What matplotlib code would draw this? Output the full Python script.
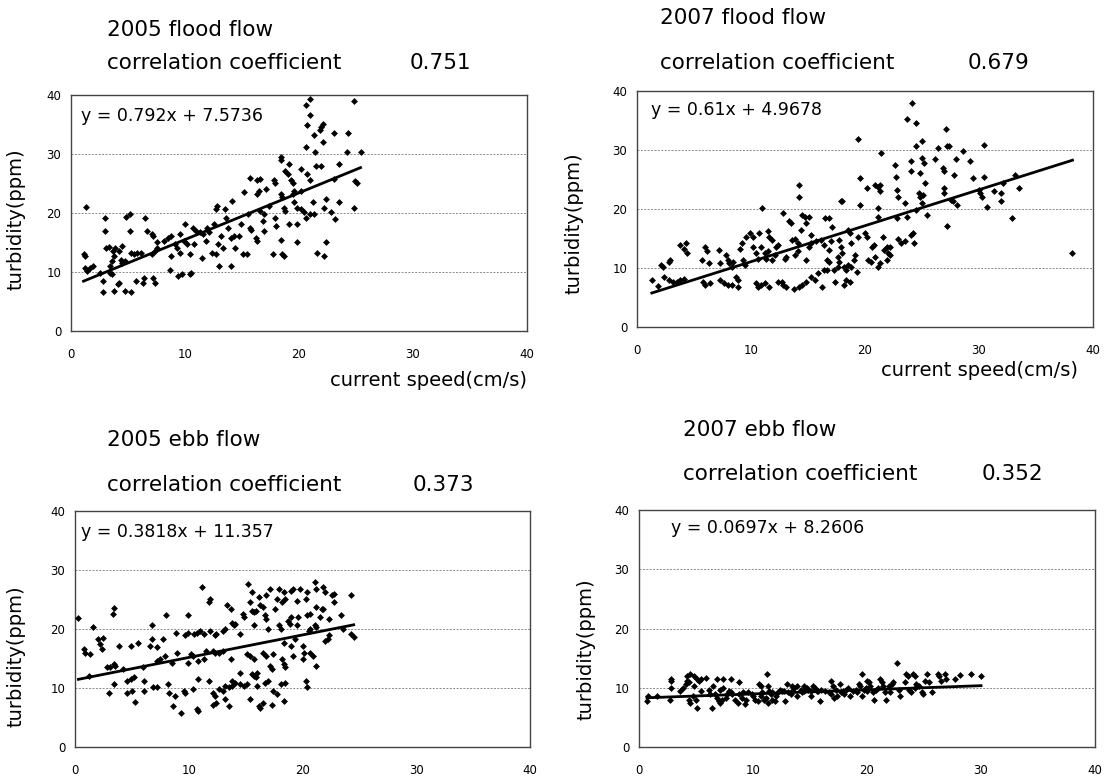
import matplotlib
matplotlib.use("Agg")
import matplotlib.pyplot as plt
import numpy as np

plt.rcParams["font.family"] = ["DejaVu Sans"]

# ---- 2005 flood flow ----
flood05_x = [1.1, 1.25, 1.35, 1.2, 1.4, 1.7, 1.9, 2.5, 2.8, 2.8,
             3.0, 3.0, 3.1, 3.3, 3.4, 3.4, 3.6, 3.6, 3.8, 3.7,
             3.9, 4.2, 3.8, 4.1, 4.2, 4.4, 4.5, 4.7, 4.5, 4.7,
             4.8, 5.2, 5.2, 5.3, 5.5, 5.8, 6.1, 5.3, 5.7, 6.3,
             6.4, 6.5, 6.7, 7.1, 7.2, 7.1, 7.4, 7.5, 7.2, 7.4,
             7.5, 8.2, 8.5, 8.8, 8.7, 8.8, 9.1, 9.3, 9.6, 9.4,
             9.7, 9.6, 10.0, 9.9, 10.2, 10.4, 10.4, 10.5, 10.7, 11.0,
             11.3, 10.8, 11.5, 11.6, 11.9, 12.1, 11.8, 12.4, 12.7, 12.5,
             12.7, 12.8, 12.9, 13.0, 14.0, 13.2, 13.3, 13.5, 13.6, 13.8,
             14.0, 14.3, 14.7, 14.1, 14.4, 14.9, 15.1, 15.4, 15.2, 15.5,
             15.7, 15.7, 15.8, 16.2, 16.3, 16.3, 16.5, 16.3, 16.6, 16.6,
             16.9, 16.8, 16.9, 17.1, 17.4, 17.7, 17.8, 17.9, 17.9, 18.0,
             18.4, 18.4, 18.4, 18.5, 18.4, 18.5, 18.7, 18.7, 18.8, 18.8,
             19.0, 19.1, 19.1, 19.3, 19.5, 19.5, 19.6, 19.6, 19.8, 19.8,
             19.8, 20.2, 20.2, 20.2, 20.4, 20.6, 20.6, 20.7, 20.7, 20.6,
             21.0, 21.0, 21.0, 21.0, 21.3, 21.2, 21.3, 21.4, 21.5, 21.6,
             21.8, 21.9, 22.1, 21.9, 22.1, 22.2, 22.2, 22.4, 22.4, 22.8,
             23.1, 23.1, 23.2, 23.5, 23.5, 24.2, 24.3, 24.8, 24.8, 24.9,
             25.1, 25.4]
flood05_y = [13.0, 12.7, 21.1, 10.7, 10.1, 10.7, 11.0, 9.8, 6.6, 8.4,
             19.2, 17.0, 14.1, 14.3, 11.0, 9.8, 9.6, 11.8, 12.7, 13.5,
             14.1, 13.5, 6.7, 7.9, 8.1, 12.1, 11.6, 11.8, 14.4, 6.7,
             19.4, 19.8, 17.0, 13.3, 13.0, 13.3, 13.3, 6.6, 8.4, 8.1,
             9.0, 19.1, 17.0, 16.4, 16.1, 13.0, 13.5, 14.1, 9.0, 8.1,
             15.0, 15.3, 15.8, 16.1, 10.4, 12.7, 14.7, 14.1, 13.3, 9.3,
             9.6, 16.4, 18.1, 15.3, 14.7, 13.0, 9.6, 9.8, 17.5, 17.0,
             16.7, 14.7, 12.4, 16.4, 17.5, 16.7, 15.3, 13.3, 13.0, 18.1,
             20.7, 21.2, 14.7, 11.0, 11.0, 16.1, 14.1, 20.7, 19.2, 17.5,
             15.8, 16.1, 16.1, 22.1, 14.1, 18.1, 13.0, 13.0, 23.5, 19.8,
             25.9, 17.5, 17.2, 15.8, 15.3, 23.2, 23.8, 25.6, 25.8, 20.4,
             19.8, 18.7, 17.0, 24.1, 21.2, 13.0, 25.6, 25.0, 19.2, 17.8,
             29.5, 28.9, 23.2, 22.7, 15.5, 13.0, 12.7, 20.9, 20.4, 27.2,
             26.6, 28.3, 18.1, 25.6, 25.0, 23.2, 23.8, 21.8, 20.9, 18.1,
             15.0, 27.5, 23.8, 20.7, 20.1, 38.3, 31.2, 34.9, 26.6, 19.2,
             39.4, 36.6, 25.6, 19.8, 19.8, 21.8, 33.2, 30.3, 28.0, 13.3,
             34.0, 34.6, 32.1, 28.0, 35.1, 20.9, 12.7, 22.4, 15.0, 20.1,
             33.5, 25.8, 19.0, 28.3, 21.8, 30.3, 33.5, 38.9, 20.9, 25.5,
             25.0, 30.3]

# ---- 2007 flood flow ----
flood07_x = [1.3, 1.8, 2.1, 2.3, 2.4, 2.8, 2.8, 2.9, 3.2, 3.5,
             3.8, 4.1, 3.8, 4.1, 4.3, 4.4, 5.7, 5.8, 6.0, 6.4,
             6.0, 6.1, 6.3, 7.2, 7.3, 7.3, 7.6, 8.0, 8.3, 7.8,
             8.0, 8.1, 8.3, 8.4, 8.7, 8.9, 8.9, 9.0, 9.2, 9.3,
             9.5, 9.6, 9.9, 10.2, 10.2, 10.4, 10.6, 10.4, 10.6, 10.9,
             11.2, 11.6, 11.0, 10.7, 10.9, 11.2, 11.3, 11.5, 11.5, 11.6,
             11.8, 11.8, 12.1, 12.2, 12.4, 12.4, 12.7, 12.8, 13.1, 12.8,
             13.0, 13.1, 13.3, 13.5, 13.6, 13.9, 14.1, 13.9, 14.1, 13.8,
             14.2, 14.5, 14.8, 14.2, 14.2, 14.4, 14.5, 14.7, 14.8, 14.8,
             15.1, 15.3, 15.3, 15.1, 15.3, 15.6, 15.9, 15.7, 16.1, 16.4,
             16.2, 16.4, 16.7, 16.5, 16.8, 16.7, 16.8, 16.8, 17.0, 17.1,
             17.3, 17.4, 17.6, 17.6, 17.7, 17.7, 17.9, 17.9, 18.0, 18.0,
             18.2, 18.3, 18.7, 18.2, 18.3, 18.5, 18.8, 18.5, 18.7, 18.8,
             19.0, 19.1, 19.3, 19.4, 19.4, 19.6, 19.6, 20.0, 20.2, 20.2,
             20.3, 20.5, 20.6, 20.8, 20.9, 21.1, 21.3, 20.9, 21.1, 21.3,
             21.1, 21.1, 21.4, 21.3, 21.6, 21.7, 21.9, 22.0, 22.2, 22.2,
             21.9, 22.6, 22.7, 22.8, 22.9, 22.8, 22.9, 23.2, 23.5, 23.5,
             23.7, 23.7, 24.0, 24.0, 24.0, 24.2, 24.1, 24.3, 24.5, 24.5,
             24.5, 24.7, 24.8, 24.8, 25.0, 25.0, 25.0, 25.1, 25.2, 25.3,
             25.4, 26.1, 26.4, 26.8, 26.9, 26.9, 26.9, 27.1, 27.2, 27.4,
             27.2, 27.5, 27.7, 27.8, 28.0, 28.1, 28.6, 29.2, 29.5, 30.0,
             30.1, 30.3, 30.4, 30.4, 30.7, 31.3, 31.9, 31.9, 32.1, 32.9,
             33.2, 33.5, 38.2]
flood07_y = [7.9, 6.9, 10.5, 10.2, 8.5, 7.9, 11.1, 11.3, 7.7, 7.7,
             7.9, 8.2, 13.9, 13.3, 14.2, 12.5, 11.3, 7.7, 7.1, 7.4,
             13.6, 12.8, 10.8, 13.1, 10.8, 7.9, 7.4, 7.1, 7.1, 12.2,
             11.3, 10.8, 10.2, 11.1, 8.5, 7.9, 6.8, 13.3, 14.2, 11.3,
             10.5, 15.3, 15.9, 15.3, 13.6, 12.5, 11.6, 7.4, 6.8, 7.1,
             7.4, 6.8, 20.1, 15.9, 13.6, 12.5, 11.6, 12.8, 16.2, 15.3,
             14.7, 11.3, 12.2, 13.6, 13.9, 7.7, 7.7, 7.1, 6.8, 19.3,
             11.6, 11.9, 17.9, 17.6, 14.7, 15.0, 14.2, 12.2, 12.8, 6.5,
             6.8, 7.1, 7.7, 24.1, 22.1, 16.5, 19.0, 18.7, 17.6, 11.3,
             13.6, 14.2, 15.6, 18.7, 8.5, 7.9, 9.1, 14.5, 14.7, 13.9,
             6.8, 9.6, 9.6, 18.4, 18.4, 11.3, 11.1, 13.0, 14.5, 17.0,
             9.6, 7.7, 10.2, 11.9, 11.1, 14.7, 13.6, 21.3, 21.3, 12.5,
             7.1, 7.9, 7.7, 10.2, 9.6, 10.5, 10.2, 16.5, 15.9, 14.2,
             11.3, 12.2, 9.4, 31.8, 15.3, 25.2, 20.7, 15.9, 15.3, 23.5,
             11.3, 11.1, 13.6, 13.9, 11.9, 10.2, 10.8, 24.1, 23.8, 24.1,
             20.1, 18.7, 29.5, 23.0, 15.3, 13.1, 13.6, 12.5, 13.6, 12.2,
             11.3, 27.5, 25.5, 23.3, 22.1, 18.4, 15.0, 14.2, 21.0, 14.5,
             35.2, 18.7, 26.4, 28.1, 15.6, 15.9, 38.0, 14.2, 30.6, 34.5,
             19.9, 22.7, 22.1, 26.1, 31.5, 28.7, 21.0, 22.4, 27.8, 24.4,
             19.0, 28.4, 30.4, 27.0, 26.4, 23.5, 22.7, 33.5, 30.6, 30.6,
             17.2, 21.6, 21.3, 25.8, 28.4, 20.7, 29.8, 28.1, 25.2, 23.3,
             22.7, 22.1, 30.9, 25.5, 20.4, 23.0, 22.7, 21.3, 24.4, 18.4,
             25.8, 23.5, 12.5]

# ---- 2005 ebb flow ----
ebb05_x = [0.3, 0.8, 0.9, 1.3, 1.2, 1.6, 2.0, 2.2, 2.4, 2.5,
           2.8, 3.1, 3.0, 3.3, 3.4, 3.4, 3.5, 3.4, 4.2, 3.9,
           4.6, 4.6, 4.9, 5.2, 4.9, 5.0, 5.3, 5.5, 6.0, 6.1,
           6.1, 6.6, 6.8, 6.8, 6.9, 7.2, 7.2, 7.2, 7.5, 7.7,
           7.9, 8.0, 8.2, 8.3, 8.5, 8.6, 8.8, 8.9, 9.0, 9.3,
           9.6, 9.7, 9.7, 9.9, 9.9, 9.9, 10.2, 10.4, 10.4, 10.5,
           10.7, 10.8, 10.7, 10.8, 10.8, 11.0, 11.3, 11.2, 11.3, 11.5,
           11.8, 11.8, 11.9, 11.9, 12.1, 12.3, 12.1, 12.3, 12.1, 12.4,
           12.3, 12.4, 12.7, 13.0, 12.7, 13.0, 13.2, 13.0, 13.2, 13.2,
           13.5, 13.4, 13.7, 13.5, 13.8, 13.7, 13.8, 14.0, 14.1, 13.8,
           14.1, 14.5, 14.5, 14.5, 14.8, 14.9, 14.9, 15.1, 15.1, 15.2,
           15.4, 15.4, 15.6, 15.7, 15.9, 15.4, 15.7, 15.6, 15.7, 15.9,
           16.0, 15.6, 15.7, 16.0, 16.2, 16.3, 16.2, 16.3, 16.5, 16.5,
           16.8, 16.5, 16.7, 16.8, 16.7, 17.0, 16.8, 17.1, 17.0, 17.1,
           17.3, 17.4, 17.4, 17.3, 17.6, 17.8, 17.9, 17.8, 17.9, 18.1,
           18.1, 18.2, 18.4, 18.5, 18.2, 18.4, 18.5, 18.4, 18.4, 18.5,
           18.7, 18.9, 19.0, 19.0, 19.2, 19.0, 19.2, 19.3, 19.5, 19.5,
           19.6, 19.8, 20.0, 20.1, 20.0, 20.3, 20.4, 20.3, 20.4, 20.6,
           20.7, 20.4, 20.7, 20.7, 20.9, 21.1, 21.2, 21.1, 21.2, 21.2,
           21.2, 21.5, 21.7, 21.8, 21.8, 22.0, 22.0, 22.2, 22.3, 22.3,
           22.6, 22.8, 22.8, 23.4, 23.6, 24.3, 24.3, 24.5]
ebb05_y = [21.8, 16.6, 16.0, 15.7, 12.0, 20.3, 18.3, 17.4, 16.6, 18.4,
           13.5, 13.5, 9.2, 22.6, 23.5, 14.0, 13.8, 10.6, 13.2, 17.2,
           9.2, 11.2, 11.5, 11.8, 17.2, 9.5, 7.6, 17.6, 13.5, 11.2,
           9.5, 17.2, 18.3, 20.6, 10.1, 10.1, 16.9, 14.6, 14.9, 18.3,
           15.5, 22.3, 10.6, 9.2, 14.3, 6.9, 8.6, 19.4, 16.0, 5.8,
           9.5, 9.2, 18.9, 19.4, 22.3, 14.3, 15.7, 15.5, 9.8, 19.1,
           19.4, 14.6, 6.4, 6.1, 11.5, 19.7, 19.1, 27.1, 14.9, 16.3,
           11.2, 24.5, 25.1, 19.7, 16.3, 16.0, 9.2, 8.6, 7.2, 7.5,
           18.9, 19.1, 16.0, 16.3, 9.8, 9.5, 10.3, 19.7, 20.0, 8.1,
           6.9, 24.0, 23.4, 10.1, 10.3, 14.9, 21.1, 20.6, 20.9, 11.2,
           10.9, 10.6, 19.1, 12.6, 22.6, 22.0, 10.3, 10.6, 15.7, 27.7,
           8.1, 24.5, 23.1, 22.8, 23.1, 15.5, 14.9, 12.3, 12.0, 11.8,
           12.6, 26.2, 20.6, 10.3, 6.9, 6.6, 25.4, 24.0, 23.7, 16.0,
           15.5, 7.5, 22.3, 21.7, 10.9, 11.2, 25.7, 26.8, 20.0, 13.8,
           13.2, 15.7, 9.5, 7.2, 23.4, 25.1, 26.8, 8.9, 20.6, 20.0,
           10.6, 24.5, 26.2, 25.1, 14.9, 14.0, 13.5, 17.7, 7.8, 10.9,
           21.4, 20.9, 22.0, 26.5, 26.8, 17.2, 15.5, 18.3, 20.6, 24.8,
           22.0, 26.8, 17.2, 16.0, 14.9, 25.1, 26.2, 11.2, 10.1, 19.7,
           20.0, 22.3, 22.6, 16.0, 15.5, 28.0, 26.8, 20.6, 20.3, 23.7,
           13.8, 22.0, 23.4, 23.4, 27.1, 26.2, 18.0, 18.3, 18.9, 21.7,
           25.7, 26.0, 24.5, 22.3, 20.0, 25.7, 19.1, 18.6]

# ---- 2007 ebb flow ----
ebb07_x = [0.7, 0.8, 1.6, 2.7, 2.8, 2.8, 2.8, 3.6, 3.9, 4.1,
           4.2, 4.5, 4.8, 4.2, 4.4, 4.4, 4.5, 4.7, 5.0, 4.8,
           5.1, 5.3, 5.4, 5.1, 5.4, 5.9, 6.1, 6.2, 6.4, 6.5,
           6.7, 6.8, 7.0, 7.1, 7.3, 6.8, 7.1, 7.4, 7.4, 8.1,
           7.6, 7.7, 7.9, 8.1, 8.2, 8.4, 8.7, 8.8, 8.8, 9.0,
           9.1, 9.3, 9.4, 9.6, 9.9, 10.0, 10.2, 10.4, 10.5, 10.7,
           10.7, 10.8, 11.0, 11.1, 11.3, 11.2, 11.3, 11.4, 11.6, 11.7,
           11.7, 11.9, 12.0, 12.2, 12.4, 12.5, 12.7, 12.8, 13.0, 13.1,
           13.3, 13.4, 13.4, 13.6, 13.9, 13.9, 14.2, 14.3, 14.5, 14.5,
           14.7, 14.8, 15.1, 15.1, 15.3, 15.4, 15.6, 15.7, 15.9, 16.0,
           16.3, 16.7, 16.8, 16.8, 17.0, 17.3, 17.1, 17.4, 17.6, 17.7,
           17.9, 18.0, 18.2, 18.3, 18.5, 18.8, 19.0, 19.1, 19.3, 19.4,
           19.6, 19.6, 19.7, 19.9, 20.0, 20.0, 20.2, 20.3, 20.5, 20.6,
           20.8, 21.0, 21.1, 21.3, 21.4, 21.6, 21.7, 21.9, 22.2, 22.0,
           22.3, 22.6, 22.8, 22.9, 23.3, 23.4, 23.6, 23.7, 23.9, 24.0,
           24.2, 24.2, 24.3, 24.6, 24.8, 24.9, 25.1, 25.3, 25.4, 25.7,
           26.2, 26.3, 26.5, 26.8, 26.9, 27.7, 28.2, 29.1, 30.0]
ebb07_y = [7.8, 8.6, 8.6, 8.0, 11.4, 11.1, 10.0, 9.4, 10.0, 10.6,
           12.0, 12.3, 12.0, 11.1, 10.9, 8.0, 7.5, 8.6, 8.0, 10.3,
           11.4, 11.1, 11.4, 6.6, 9.4, 11.7, 9.7, 8.9, 6.6, 10.3,
           8.9, 8.3, 7.8, 7.5, 8.0, 11.4, 9.7, 10.0, 11.4, 11.4,
           8.3, 8.9, 9.4, 9.2, 8.9, 8.0, 7.5, 10.9, 8.9, 8.3,
           9.2, 7.2, 8.0, 9.2, 8.9, 8.6, 8.0, 7.8, 10.6, 10.3,
           8.6, 9.2, 8.0, 8.3, 7.5, 12.3, 10.3, 9.4, 8.9, 9.2,
           8.0, 7.8, 8.6, 9.2, 9.7, 9.4, 9.4, 7.8, 10.6, 9.2,
           8.9, 9.4, 10.3, 10.0, 8.6, 10.3, 9.7, 9.2, 9.4, 10.3,
           10.0, 9.7, 9.4, 8.6, 10.3, 10.0, 9.4, 9.4, 7.8, 9.7,
           9.4, 9.2, 8.9, 11.1, 10.3, 9.7, 8.3, 8.6, 10.6, 9.2,
           9.4, 8.9, 9.7, 10.0, 8.6, 9.4, 9.7, 9.2, 10.6, 10.3,
           12.3, 8.6, 9.7, 10.0, 9.4, 11.1, 10.9, 10.3, 9.2, 8.0,
           9.7, 10.0, 11.4, 10.9, 10.3, 9.2, 8.0, 10.3, 10.6, 9.2,
           10.9, 14.1, 9.7, 8.6, 10.9, 12.3, 12.0, 9.7, 9.2, 12.3,
           12.0, 10.0, 10.6, 10.3, 9.2, 8.9, 11.1, 12.3, 10.9, 9.2,
           12.3, 12.0, 11.1, 12.3, 11.4, 11.4, 12.1, 12.3, 12.0]

# Panel headings, fitted trend lines and correlation coefficients
titles = ["2005 flood flow", "2007 flood flow", "2005 ebb flow", "2007 ebb flow"]
slopes = [0.792, 0.61, 0.3818, 0.0697]
intercepts = [7.5736, 4.9678, 11.357, 8.2606]
corr = ["0.751", "0.679", "0.373", "0.352"]
series_x = [flood05_x, flood07_x, ebb05_x, ebb07_x]
series_y = [flood05_y, flood07_y, ebb05_y, ebb07_y]
axis_ticks = [0, 10, 20, 30, 40]

W, H = 1107, 777
fig = plt.figure(figsize=(W / 100, H / 100), dpi=100)


def fx(px):
    return px / W


def fy(py):
    return 1 - py / H


# plot-area boxes in pixels: left, right, top, bottom
boxes = [(71, 527, 95, 331), (637, 1093, 91, 327),
         (75, 530, 511, 747), (639, 1095, 510, 747)]
# heading positions: title (x, y), coefficient line y, value x
heading = [((107, 30), 63, 410), ((660, 18), 63, 968),
           ((107, 440), 485, 413), ((683, 430), 474, 982)]
eq_pos = [(81, 116), (651, 110), (81, 532), (671, 528)]
ylab_pos = [(16, 219), (574, 223), (16, 656), (586, 649)]
xlab_pos = {0: (527, 380), 1: (1078, 370)}

for i in range(4):
    l, r, t, b = boxes[i]
    ax = fig.add_axes([fx(l), fy(b), (r - l) / W, (b - t) / H])
    x = np.array(series_x[i])
    y = np.array(series_y[i])
    ax.plot(x, y, ls="none", marker="D", ms=3.5, mec="none", mfc="black", zorder=3)
    xl = np.array([x.min(), x.max()])
    ax.plot(xl, slopes[i] * xl + intercepts[i], color="black", lw=2.0, zorder=4)

    ax.set_xlim(0, 40)
    ax.set_ylim(0, 40)
    ax.set_xticks(axis_ticks)
    ax.set_yticks(axis_ticks)
    ax.set_xticklabels([str(v) for v in axis_ticks])
    ax.set_yticklabels([str(v) for v in axis_ticks])
    ax.tick_params(length=0, labelsize=8.5, colors="black")
    ax.tick_params(axis="x", pad=12)
    ax.tick_params(axis="y", pad=7)
    for v in [10, 20, 30]:
        ax.axhline(v, color="#8a8a8a", lw=0.7, ls=(0, (2, 1.5)), zorder=1)
    for s in ax.spines.values():
        s.set_color("#444444")
        s.set_linewidth(1.0)

    (tx, ty), cy, vx = heading[i]
    fig.text(fx(tx), fy(ty), titles[i], fontsize=15.5, ha="left", va="center")
    fig.text(fx(tx), fy(cy), "correlation coefficient", fontsize=15.5, ha="left", va="center")
    fig.text(fx(vx), fy(cy), corr[i], fontsize=15.5, ha="left", va="center")

    ex, ey = eq_pos[i]
    fig.text(fx(ex), fy(ey), f"y = {slopes[i]}x + {intercepts[i]}",
             fontsize=12.5, ha="left", va="center")

    lx, ly = ylab_pos[i]
    fig.text(fx(lx), fy(ly), "turbidity(ppm)", fontsize=14, rotation=90,
             ha="center", va="center")
    if i in xlab_pos:
        cx, cyy = xlab_pos[i]
        fig.text(fx(cx), fy(cyy), "current speed(cm/s)", fontsize=14,
                 ha="right", va="center")

fig.savefig("out.png", dpi=100, facecolor="white")
